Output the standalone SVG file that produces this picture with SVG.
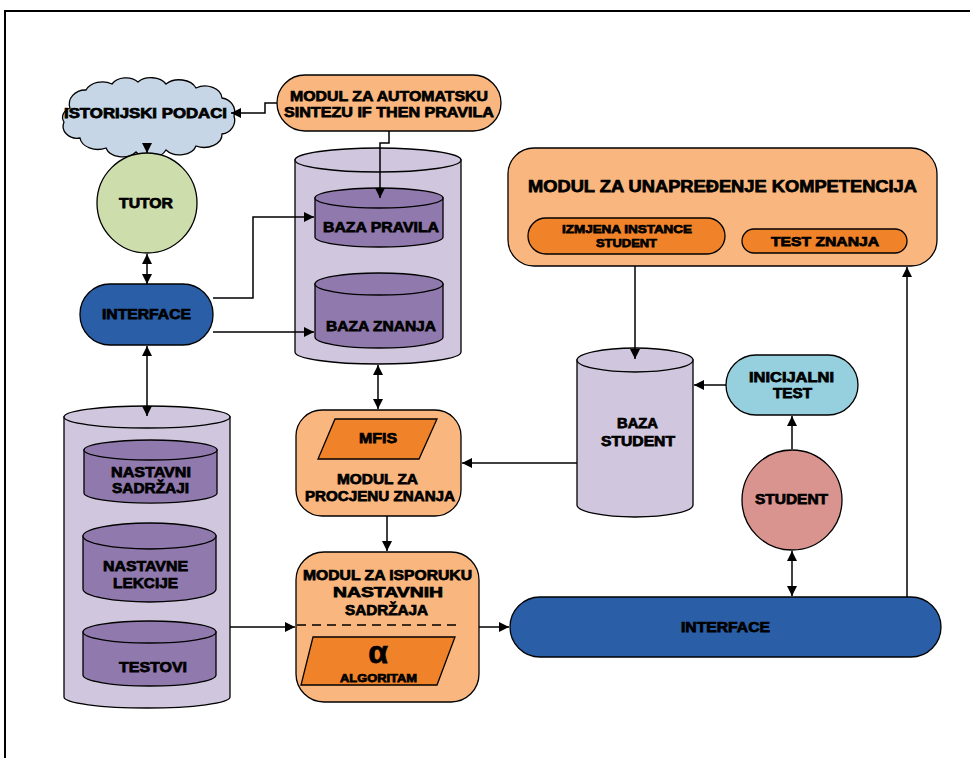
<svg xmlns="http://www.w3.org/2000/svg" width="970" height="758" viewBox="0 0 970 758">
  <defs>
    <marker id="arr" viewBox="0 0 10 10" refX="10" refY="5" markerWidth="10" markerHeight="10" markerUnits="userSpaceOnUse" orient="auto-start-reverse">
      <path d="M0,0 L10,5 L0,10 Z" fill="#000"/>
    </marker>
    <style>
      .t { font-family: "Liberation Sans", Arial, sans-serif; font-weight: bold; fill: #000; stroke: #000; stroke-width: 0.75; text-anchor: middle; }
      .ln { fill: none; stroke: #000; stroke-width: 1.5; }
      .edge { stroke: #000; stroke-width: 1.3; }
      .lo { fill: #F9B77F; }
      .do { fill: #F0832A; }
      .cyl { fill: #D0C7DE; }
      .pur { fill: #9079AC; }
      .blue { fill: #2A5EA7; }
    </style>
  </defs>

  <rect width="970" height="758" fill="#fff"/>
  <!-- outer frame -->
  <rect x="5" y="11" width="990" height="780" fill="none" stroke="#000" stroke-width="2"/>

  <!-- historical data cloud -->
  <g id="istorijski-podaci">
    <path d="M70,108 A16,14 0 0 1 86,90 A18,14 0 0 1 112,84 A16,12 0 0 1 138,82 A17,12 0 0 1 166,84 A18,13 0 0 1 196,88 A17,13 0 0 1 222,98 A15,14 0 0 1 234,116 A15,14 0 0 1 222,134 A18,13 0 0 1 196,146 A17,12 0 0 1 166,150 A17,12 0 0 1 136,152 A17,12 0 0 1 106,148 A18,13 0 0 1 80,138 A14,12 0 0 1 64,122 A12,10 0 0 1 70,108 Z" fill="#C6D6E6" class="edge"/>
    <text class="t" x="145.5" y="118" font-size="14" textLength="163" lengthAdjust="spacingAndGlyphs">ISTORIJSKI PODACI</text>
  </g>

  <!-- rule synthesis module -->
  <g id="modul-sinteza">
    <rect x="277" y="75" width="224" height="56" rx="28" class="lo edge"/>
    <text class="t" x="389" y="101" font-size="15" textLength="198" lengthAdjust="spacingAndGlyphs">MODUL ZA AUTOMATSKU</text>
    <text class="t" x="389" y="117" font-size="15" textLength="210" lengthAdjust="spacingAndGlyphs">SINTEZU IF THEN PRAVILA</text>
  </g>

  <!-- tutor -->
  <g id="tutor">
    <circle cx="147" cy="203" r="50" fill="#CDDDAC" class="edge"/>
    <text class="t" x="146" y="208" font-size="15" textLength="54" lengthAdjust="spacingAndGlyphs">TUTOR</text>
  </g>

  <!-- tutor interface -->
  <g id="interface-tutor">
    <rect x="80" y="284" width="133" height="61" rx="30" class="blue edge"/>
    <text class="t" x="146.5" y="319" font-size="15" textLength="89" lengthAdjust="spacingAndGlyphs">INTERFACE</text>
  </g>

  <!-- rule / knowledge store -->
  <g id="baza-pravila-znanja">
    <path d="M295,160 V352 A83,12 0 0 0 461,352 V160 Z" class="cyl edge"/>
    <ellipse cx="378" cy="160" rx="83" ry="12" class="cyl edge"/>
    <path d="M315,198 V237 A64,10 0 0 0 443,237 V198 Z" class="pur edge"/>
    <ellipse cx="379" cy="198" rx="64" ry="10" class="pur edge"/>
    <text class="t" x="381" y="232" font-size="15" textLength="116" lengthAdjust="spacingAndGlyphs">BAZA PRAVILA</text>
    <path d="M315,284 V337 A64,11 0 0 0 443,337 V284 Z" class="pur edge"/>
    <ellipse cx="379" cy="284" rx="64" ry="11" class="pur edge"/>
    <text class="t" x="381" y="331" font-size="15" textLength="110" lengthAdjust="spacingAndGlyphs">BAZA ZNANJA</text>
  </g>

  <!-- knowledge assessment module -->
  <g id="modul-procjena">
    <rect x="296" y="410" width="165" height="106" rx="26" class="lo edge"/>
    <path d="M335,419 H437 L419,459 H318 Z" class="do edge"/>
    <text class="t" x="378" y="443" font-size="14" textLength="38" lengthAdjust="spacingAndGlyphs">MFIS</text>
    <text class="t" x="377.5" y="484" font-size="14.5" textLength="81" lengthAdjust="spacingAndGlyphs">MODUL ZA</text>
    <text class="t" x="380" y="501" font-size="14.5" textLength="150" lengthAdjust="spacingAndGlyphs">PROCJENU ZNANJA</text>
  </g>

  <!-- teaching content store -->
  <g id="baza-sadrzaja">
    <path d="M64,417 V697 A83,11 0 0 0 230,697 V417 Z" class="cyl edge"/>
    <ellipse cx="147" cy="417" rx="83" ry="11" class="cyl edge"/>
    <path d="M84,450 V493 A66,10 0 0 0 217,493 V450 Z" class="pur edge"/>
    <ellipse cx="150.5" cy="450" rx="66.5" ry="10" class="pur edge"/>
    <text class="t" x="151" y="477" font-size="15" textLength="80" lengthAdjust="spacingAndGlyphs">NASTAVNI</text>
    <text class="t" x="150.5" y="493" font-size="15" textLength="77" lengthAdjust="spacingAndGlyphs">SADRŽAJI</text>
    <path d="M83,536 V589 A66.5,13 0 0 0 216,589 V536 Z" class="pur edge"/>
    <ellipse cx="149.5" cy="536" rx="66.5" ry="13" class="pur edge"/>
    <text class="t" x="145.5" y="571" font-size="15" textLength="85" lengthAdjust="spacingAndGlyphs">NASTAVNE</text>
    <text class="t" x="145.5" y="588" font-size="15" textLength="65" lengthAdjust="spacingAndGlyphs">LEKCIJE</text>
    <path d="M83,632 V675 A66.5,11 0 0 0 216,675 V632 Z" class="pur edge"/>
    <ellipse cx="149.5" cy="632" rx="66.5" ry="11" class="pur edge"/>
    <text class="t" x="153" y="672" font-size="15" textLength="68" lengthAdjust="spacingAndGlyphs">TESTOVI</text>
  </g>

  <!-- content delivery module -->
  <g id="modul-isporuka">
    <rect x="296" y="552" width="183" height="150" rx="28" class="lo edge"/>
    <text class="t" x="387.5" y="580" font-size="14.5" textLength="169" lengthAdjust="spacingAndGlyphs">MODUL ZA ISPORUKU</text>
    <text class="t" x="388" y="597" font-size="14.5" textLength="110" lengthAdjust="spacingAndGlyphs">NASTAVNIH</text>
    <text class="t" x="386.5" y="615" font-size="14.5" textLength="83" lengthAdjust="spacingAndGlyphs">SADRŽAJA</text>
    <line x1="297" y1="625" x2="458" y2="625" stroke="#000" stroke-width="1.3" stroke-dasharray="9,6"/>
    <path d="M313,637 H455 L437,685 H301 Z" class="do edge"/>
    <text class="t" x="378" y="663" font-size="32" stroke-width="1.2">α</text>
    <text class="t" x="378.5" y="682" font-size="11.5" textLength="77" lengthAdjust="spacingAndGlyphs">ALGORITAM</text>
  </g>

  <!-- competence improvement module -->
  <g id="modul-unapredjenje">
    <rect x="508" y="148" width="429" height="118" rx="26" class="lo edge"/>
    <text class="t" x="722.5" y="192" font-size="16.5" textLength="389" lengthAdjust="spacingAndGlyphs">MODUL ZA UNAPREĐENJE KOMPETENCIJA</text>
    <rect x="528" y="218" width="197" height="36" rx="18" class="do edge"/>
    <text class="t" x="627" y="233" font-size="11.5" textLength="130" lengthAdjust="spacingAndGlyphs">IZMJENA INSTANCE</text>
    <text class="t" x="626.5" y="247" font-size="11.5" textLength="61" lengthAdjust="spacingAndGlyphs">STUDENT</text>
    <rect x="742" y="229" width="165" height="24" rx="12" class="do edge"/>
    <text class="t" x="825" y="245.5" font-size="13" textLength="108" lengthAdjust="spacingAndGlyphs">TEST ZNANJA</text>
  </g>

  <!-- student store -->
  <g id="baza-student">
    <path d="M577,360 V505 A58,12 0 0 0 693,505 V360 Z" class="cyl edge"/>
    <ellipse cx="635" cy="360" rx="58" ry="12" class="cyl edge"/>
    <text class="t" x="637.5" y="428" font-size="14" textLength="41" lengthAdjust="spacingAndGlyphs">BAZA</text>
    <text class="t" x="638" y="446" font-size="14" textLength="74" lengthAdjust="spacingAndGlyphs">STUDENT</text>
  </g>

  <!-- initial test -->
  <g id="inicijalni-test">
    <rect x="726" y="355" width="132" height="60" rx="30" fill="#96CFDD" class="edge"/>
    <text class="t" x="791.5" y="382" font-size="14" textLength="85" lengthAdjust="spacingAndGlyphs">INICIJALNI</text>
    <text class="t" x="792.5" y="398" font-size="14" textLength="39" lengthAdjust="spacingAndGlyphs">TEST</text>
  </g>

  <!-- student -->
  <g id="student">
    <circle cx="792" cy="500" r="50" fill="#DA9490" class="edge"/>
    <text class="t" x="791.5" y="504" font-size="14" textLength="73" lengthAdjust="spacingAndGlyphs">STUDENT</text>
  </g>

  <!-- student interface -->
  <g id="interface-student">
    <rect x="510" y="597" width="431" height="60" rx="30" class="blue edge"/>
    <text class="t" x="725.5" y="632" font-size="14" textLength="89" lengthAdjust="spacingAndGlyphs">INTERFACE</text>
  </g>

  <!-- connectors -->
  <g id="connectors" class="ln">
    <path d="M277,103 H265 V113 H231" marker-end="url(#arr)"/>
    <path d="M389,131 V143 H380 V198" marker-end="url(#arr)"/>
    <path d="M147,144 V153" marker-end="url(#arr)"/>
    <path d="M147,254 V284" marker-start="url(#arr)" marker-end="url(#arr)"/>
    <path d="M213,298 H253 V217 H314" marker-end="url(#arr)"/>
    <path d="M213,332 H314" marker-end="url(#arr)"/>
    <path d="M147,346 V416" marker-start="url(#arr)" marker-end="url(#arr)"/>
    <path d="M378,365 V409" marker-start="url(#arr)" marker-end="url(#arr)"/>
    <path d="M577,463 H462" marker-end="url(#arr)"/>
    <path d="M387,516 V551" marker-end="url(#arr)"/>
    <path d="M230,627 H295" marker-end="url(#arr)"/>
    <path d="M479,627 H509" marker-end="url(#arr)"/>
    <path d="M635,266 V359" marker-end="url(#arr)"/>
    <path d="M726,385 H694" marker-end="url(#arr)"/>
    <path d="M792,449 V416" marker-end="url(#arr)"/>
    <path d="M792,551 V596" marker-start="url(#arr)" marker-end="url(#arr)"/>
    <path d="M907,597 V267" marker-end="url(#arr)"/>
  </g>
</svg>
